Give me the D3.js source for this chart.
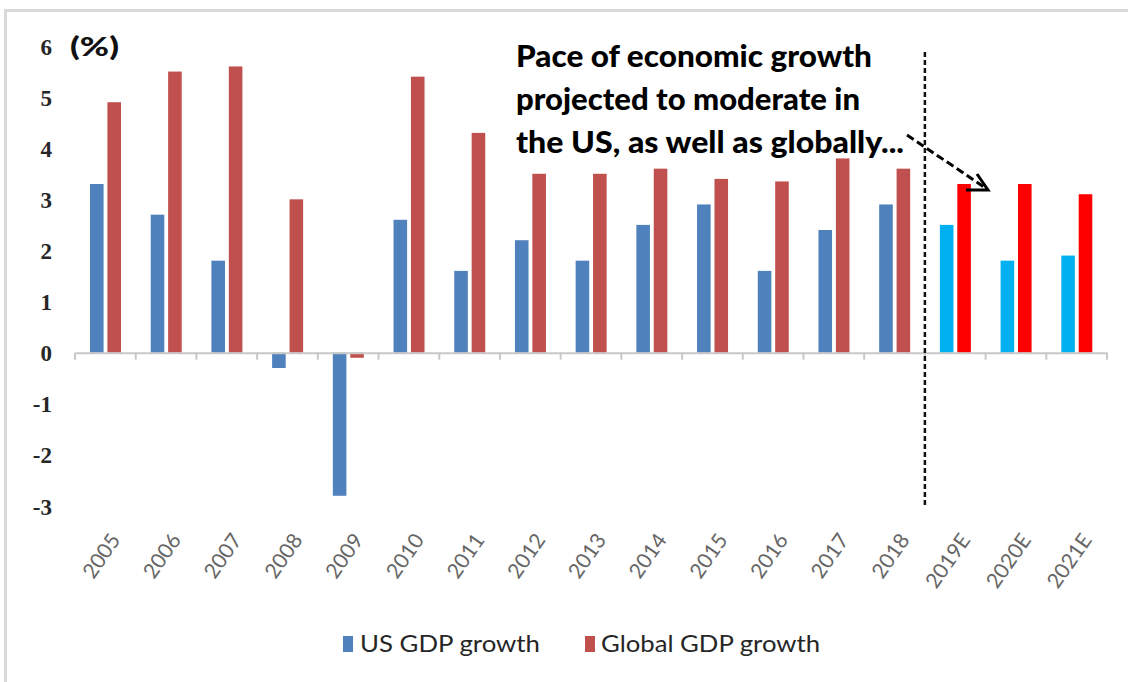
<!DOCTYPE html>
<html>
<head>
<meta charset="utf-8">
<script src="https://cdn.jsdelivr.net/npm/d3@7"></script>
<style>
  html, body { margin: 0; padding: 0; background: #fff; }
  svg { display: block; }
</style>
</head>
<body>
<svg id="chart" width="1128" height="682"></svg>
<script>
// Years on the category axis; the last three are estimates
const years = ["2005","2006","2007","2008","2009","2010","2011","2012","2013",
               "2014","2015","2016","2017","2018","2019E","2020E","2021E"];
const usGrowth     = [3.3, 2.7, 1.8, -0.3, -2.8, 2.6, 1.6, 2.2, 1.8, 2.5, 2.9, 1.6, 2.4, 2.9, 2.5, 1.8, 1.9];
const globalGrowth = [4.9, 5.5, 5.6, 3.0, -0.1, 5.4, 4.3, 3.5, 3.5, 3.6, 3.4, 3.35, 3.8, 3.6, 3.3, 3.3, 3.1];
const estimateYears = ["2019E","2020E","2021E"];
const yTicks = [6, 5, 4, 3, 2, 1, 0, -1, -2, -3];
const seriesNames = ["US GDP growth", "Global GDP growth"];
const noteLines = ["Pace of economic growth", "projected to moderate in", "the US, as well as globally..."];

const colors = {
  us: "#4f81bd", global: "#c0504d",
  usEst: "#00b0f0", globalEst: "#ff0000"
};

const svg = d3.select("#chart");

// chart frame
svg.append("rect")
  .attr("x", 5.5).attr("y", 10.5).attr("width", 1140).attr("height", 700)
  .attr("fill", "none").attr("stroke", "#d9d9d9").attr("stroke-width", 3);

const x = d3.scaleBand().domain(years).range([75, 1107]);
const sub = d3.scaleBand().domain(["us", "global"]).range([15, 46]).paddingInner(0.22);
const y = d3.scaleLinear().domain([-3, 6]).range([506, 46]);

const rows = years.map((yr, i) => ({
  year: yr, est: estimateYears.includes(yr),
  vals: [{k: "us", v: usGrowth[i]}, {k: "global", v: globalGrowth[i]}]
}));

// bars
const g = svg.append("g");
const grp = g.selectAll("g.cat").data(rows).join("g")
  .attr("transform", d => `translate(${x(d.year)},0)`);
grp.selectAll("rect").data(d => d.vals.map(v => ({...v, est: d.est}))).join("rect")
  .attr("x", d => sub(d.k))
  .attr("width", sub.bandwidth())
  .attr("y", d => y(Math.max(0, d.v)))
  .attr("height", d => Math.abs(y(d.v) - y(0)))
  .attr("fill", d => d.est ? colors[d.k + "Est"] : colors[d.k]);

// horizontal category axis along zero
const xAxis = d3.axisBottom(x).tickSize(0).tickFormat("");
const ax = svg.append("g").attr("transform", `translate(0,${y(0)})`).call(xAxis);
ax.select(".domain").attr("stroke", "#c8c8c8").attr("stroke-width", 2);
// tick marks at category boundaries
ax.selectAll("line.bound").data(years.concat(["end"])).join("line")
  .attr("class", "bound")
  .attr("x1", (d, i) => 75 + i * x.step()).attr("x2", (d, i) => 75 + i * x.step())
  .attr("y1", 0).attr("y2", 7)
  .attr("stroke", "#c8c8c8").attr("stroke-width", 2);

// rotated year labels
svg.append("g").selectAll("text").data(years).join("text")
  .attr("transform", d => `translate(${x(d) + x.bandwidth() / 2 + 16},${540}) rotate(-55)`)
  .attr("text-anchor", "end")
  .attr("font-family", "Lato, 'Open Sans', sans-serif")
  .attr("font-size", 21)
  .attr("fill", "#666")
  .text(d => d);

// value axis labels
const yAxis = d3.axisLeft(y).tickValues(yTicks).tickSize(0).tickFormat(d3.format("d"));
const ay = svg.append("g").attr("transform", "translate(52,0)").call(yAxis);
ay.select(".domain").remove();
ay.selectAll("text")
  .attr("x", 0).attr("dy", "0.35em")
  .attr("font-family", "'Liberation Serif', 'DejaVu Serif', serif")
  .attr("font-weight", "bold")
  .attr("font-size", 23)
  .attr("fill", "#262626")
  .text(d => d < 0 ? "-" + Math.abs(d) : d);

svg.append("text")
  .attr("x", 70).attr("y", 56)
  .attr("font-family", "Lato, sans-serif").attr("font-weight", "900")
  .attr("font-size", 26).attr("fill", "#111")
  .attr("textLength", 49).attr("lengthAdjust", "spacingAndGlyphs")
  .text("(%)");

// divider between actuals and estimates
const divX = 75 + 14 * x.step();
svg.append("line")
  .attr("x1", divX).attr("x2", divX).attr("y1", 52).attr("y2", 505)
  .attr("stroke", "#111").attr("stroke-width", 2.5).attr("stroke-dasharray", "5,3");

// annotation text
const noteWidths = [356, 344, 388];
svg.append("g").selectAll("text").data(noteLines).join("text")
  .attr("x", 516).attr("y", (d, i) => 67 + i * 43)
  .attr("font-family", "Lato, sans-serif").attr("font-weight", "900")
  .attr("font-size", 30).attr("fill", "#000")
  .attr("textLength", (d, i) => noteWidths[i])
  .attr("lengthAdjust", "spacingAndGlyphs")
  .text(d => d);

// dashed pointer arrow
svg.append("path")
  .attr("d", "M907,135 L984,187")
  .attr("stroke", "#000").attr("stroke-width", 3).attr("stroke-dasharray", "8,4").attr("fill", "none");
svg.append("path")
  .attr("d", "M977,174 L988,190 L966,190")
  .attr("stroke", "#000").attr("stroke-width", 3).attr("fill", "none");

// legend
const legend = svg.append("g");
const legItems = [
  {name: seriesNames[0], color: colors.us, sx: 343, tx: 360, w: 180},
  {name: seriesNames[1], color: colors.global, sx: 585, tx: 601, w: 219}
];
legend.selectAll("rect").data(legItems).join("rect")
  .attr("x", d => d.sx).attr("y", 636).attr("width", 10).attr("height", 16)
  .attr("fill", d => d.color);
legend.selectAll("text").data(legItems).join("text")
  .attr("x", d => d.tx).attr("y", 652)
  .attr("font-family", "Lato, sans-serif")
  .attr("font-size", 23).attr("fill", "#262626")
  .attr("textLength", d => d.w).attr("lengthAdjust", "spacingAndGlyphs")
  .text(d => d.name);
</script>
</body>
</html>
